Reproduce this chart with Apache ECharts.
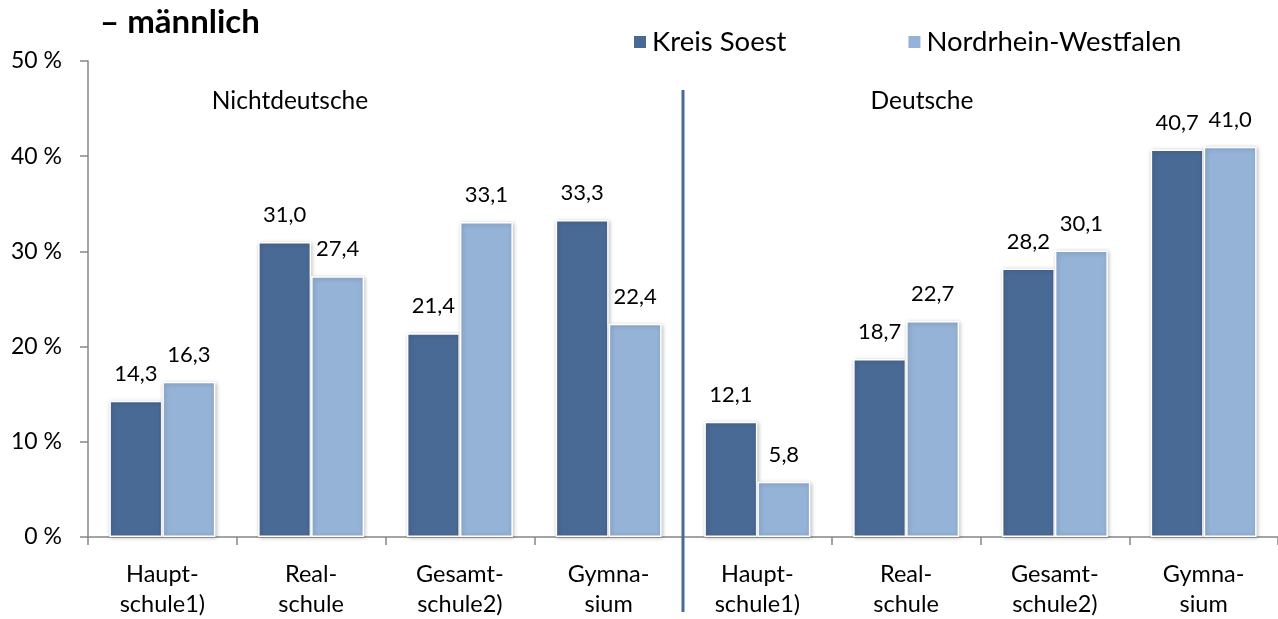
<!DOCTYPE html>
<html><head><meta charset="utf-8">
<script src="https://cdn.jsdelivr.net/npm/echarts@6/dist/echarts.min.js"></script>
<style>html,body{margin:0;padding:0;background:#fff}#c{width:1278px;height:619px}</style>
</head><body><div id="c"></div>
<script>
const categories = ['Haupt-\nschule1)', 'Real-\nschule', 'Gesamt-\nschule2)', 'Gymna-\nsium', 'Haupt-\nschule1)', 'Real-\nschule', 'Gesamt-\nschule2)', 'Gymna-\nsium'];
const kreisSoest = [14.3, 31.0, 21.4, 33.3, 12.1, 18.7, 28.2, 40.7];
const nrw = [16.3, 27.4, 33.1, 22.4, 5.8, 22.7, 30.1, 41.0];
const seriesNames = ['Kreis Soest', 'Nordrhein-Westfalen'];
const groupLabels = ['Nichtdeutsche', 'Deutsche'];
const titleText = '– männlich';

const FONT = 'Lato, "Open Sans", sans-serif';
const chart = echarts.init(document.getElementById('c'), null, {renderer: 'canvas'});
const fmt = p => p.value.toFixed(1).replace('.', ',');
const barStyle = color => ({
  color: color, borderColor: '#fff', borderWidth: 1.5,
  shadowColor: 'rgba(0,0,0,0.25)', shadowBlur: 4, shadowOffsetX: 1, shadowOffsetY: 1
});
const labelCfg = {show: true, position: 'top', distance: 16, fontFamily: FONT, fontSize: 22, color: '#000', formatter: fmt};
chart.setOption({
  animation: false,
  textStyle: {fontFamily: FONT},
  legend: {
    left: 627, top: 23, itemWidth: 14, itemHeight: 14, itemGap: 120,
    icon: 'rect',
    textStyle: {fontFamily: FONT, fontSize: 27.5, color: '#000'},
    data: seriesNames
  },
  grid: {left: 88, right: -6, top: 61, bottom: 78, containLabel: false},
  xAxis: {
    type: 'category', data: categories,
    axisLine: {lineStyle: {color: '#868686', width: 1.5}},
    axisTick: {show: true, length: 8, lineStyle: {color: '#868686', width: 1.5}},
    axisLabel: {fontFamily: FONT, fontSize: 23.5, color: '#000', lineHeight: 30, margin: 22, interval: 0}
  },
  yAxis: {
    type: 'value', min: 0, max: 50, interval: 10,
    axisLine: {show: true, lineStyle: {color: '#868686', width: 1.5}},
    axisTick: {show: true, length: 8, lineStyle: {color: '#868686', width: 1.5}},
    splitLine: {show: false},
    axisLabel: {fontFamily: FONT, fontSize: 23, color: '#000', margin: 26, formatter: v => v + ' %'}
  },
  series: [
    {name: seriesNames[0], type: 'bar', data: kreisSoest, barWidth: 53, barGap: '0%', itemStyle: barStyle('#4A6A96'), label: labelCfg},
    {name: seriesNames[1], type: 'bar', data: nrw, barWidth: 53, barGap: '0%', itemStyle: barStyle('#95B3D7'), label: labelCfg}
  ]
});
const x3 = chart.convertToPixel({xAxisIndex: 0}, 3);
const x4 = chart.convertToPixel({xAxisIndex: 0}, 4);
const sepX = (x3 + x4) / 2;
chart.setOption({
  graphic: [
    {type: 'text', x: 100, y: 22, style: {text: titleText, fontFamily: FONT, fontSize: 33, fontWeight: 'bold', fill: '#000', align: 'left', verticalAlign: 'middle'}},
    {type: 'line', shape: {x1: sepX, y1: 90, x2: sepX, y2: 612}, style: {stroke: '#4A6A96', lineWidth: 3}, z: 10},
    {type: 'text', x: 290, y: 101, style: {text: groupLabels[0], fontFamily: FONT, fontSize: 24.5, fill: '#000', align: 'center', verticalAlign: 'middle'}},
    {type: 'text', x: 922, y: 101, style: {text: groupLabels[1], fontFamily: FONT, fontSize: 24.5, fill: '#000', align: 'center', verticalAlign: 'middle'}}
  ]
});
</script></body></html>
